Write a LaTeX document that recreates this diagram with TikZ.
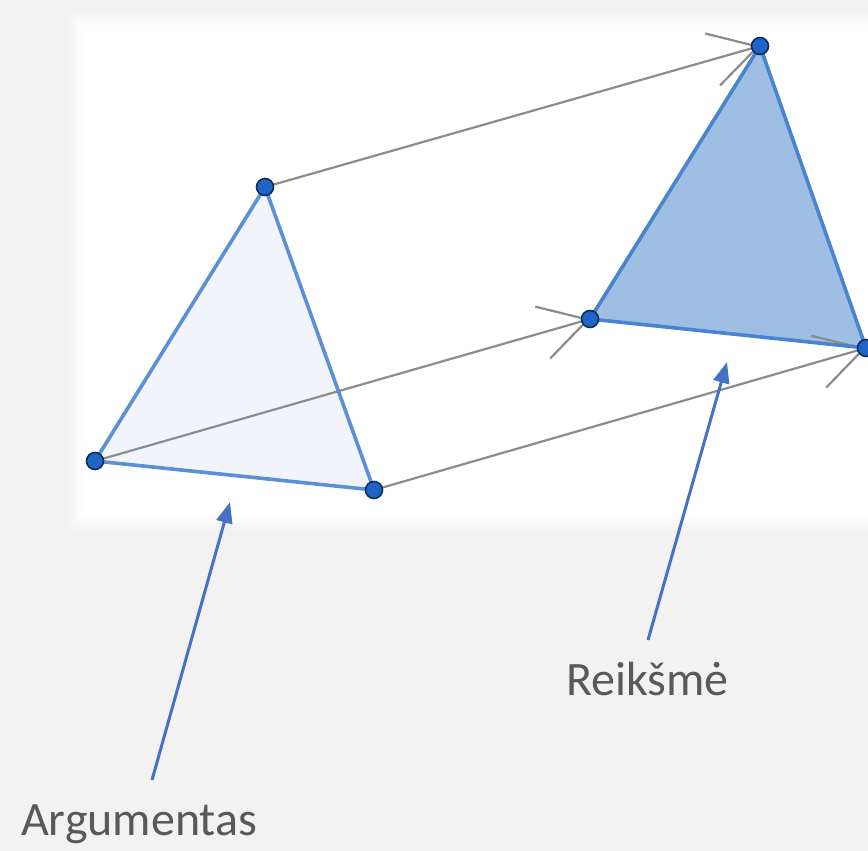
\documentclass[tikz,border=0pt]{standalone}
\usepackage{fontspec}
\setmainfont{Carlito}
\usetikzlibrary{arrows.meta,calc}
\definecolor{bgc}{HTML}{F2F2F2}
\definecolor{sh1}{HTML}{F4F4F4}
\definecolor{sh2}{HTML}{F7F7F7}
\definecolor{sh3}{HTML}{FAFAFA}
\definecolor{sh4}{HTML}{FDFDFD}
\definecolor{edgeblue}{HTML}{5B90D6}
\definecolor{edgeblue2}{HTML}{4A84CF}
\definecolor{fillA}{HTML}{F1F5FB}
\definecolor{fillB}{HTML}{9EBEE4}
\definecolor{dotfill}{HTML}{1F63C6}
\definecolor{dotline}{HTML}{0E2F5C}
\definecolor{trgray}{HTML}{8C8C8C}
\definecolor{annblue}{HTML}{4472C4}
\definecolor{txtgray}{HTML}{595959}
\tikzset{
  vdot/.style={circle,fill=dotfill,draw=dotline,line width=1.6pt,minimum size=17pt,inner sep=0pt},
  transl/.style={draw=trgray,line width=2.2pt,-{Straight Barb[length=47pt,width=54pt,line width=2.2pt]}},
  triA/.style={draw=edgeblue,line width=3.6pt,line join=round},
  triB/.style={draw=edgeblue2,line width=3.6pt,line join=round},
  ann/.style={draw=annblue,line width=3pt,-{Triangle[length=21pt,width=16pt]}},
  lbl/.style={text=txtgray,font=\fontsize{48}{52}\selectfont,inner sep=0pt}
}
\begin{document}
\begin{tikzpicture}[x=1pt,y=-1pt]
\useasboundingbox (0,0) rectangle (868,851);
\fill[bgc] (0,0) rectangle (868,851);
% panel with soft shadow
\fill[sh1] (67,12) rectangle (880,531);
\fill[sh2] (71,16) rectangle (880,527);
\fill[sh3] (75,20) rectangle (880,523);
\fill[sh4] (79,24) rectangle (880,519);
\fill[white] (83,28) rectangle (880,515);
% vertices
\coordinate (A) at (265,187);
\coordinate (B) at (95,461);
\coordinate (C) at (374,490);
\coordinate (A2) at (760,46);
\coordinate (B2) at (590,319);
\coordinate (C2) at (866,348);
% triangles
\fill[fillA] (A) -- (B) -- (C) -- cycle;
\fill[fillB] (A2) -- (B2) -- (C2) -- cycle;
% translation lines
\draw[transl] (A) -- (A2);
\draw[transl] (B) -- (B2);
\draw[transl] (C) -- (C2);
% triangle edges
\draw[triA] (A) -- (B) -- (C) -- cycle;
\draw[triB] (A2) -- (B2) -- (C2) -- cycle;
% dots
\foreach \p in {A,B,C,A2,B2,C2} \node[vdot] (d\p) at (\p) {};
% labels
\node[lbl,anchor=base west] (arg) at (21,835) {Argumentas};
\node[lbl,anchor=base west] (val) at (566,695) {Reikšmė};
\coordinate (argtail) at (152,780);
\coordinate (argtip) at (230,502);
\coordinate (valtail) at (648,640);
\coordinate (valtip) at (727,362);
\draw[ann] (argtail) -- (argtip);
\draw[ann] (valtail) -- (valtip);
\end{tikzpicture}
\end{document}
